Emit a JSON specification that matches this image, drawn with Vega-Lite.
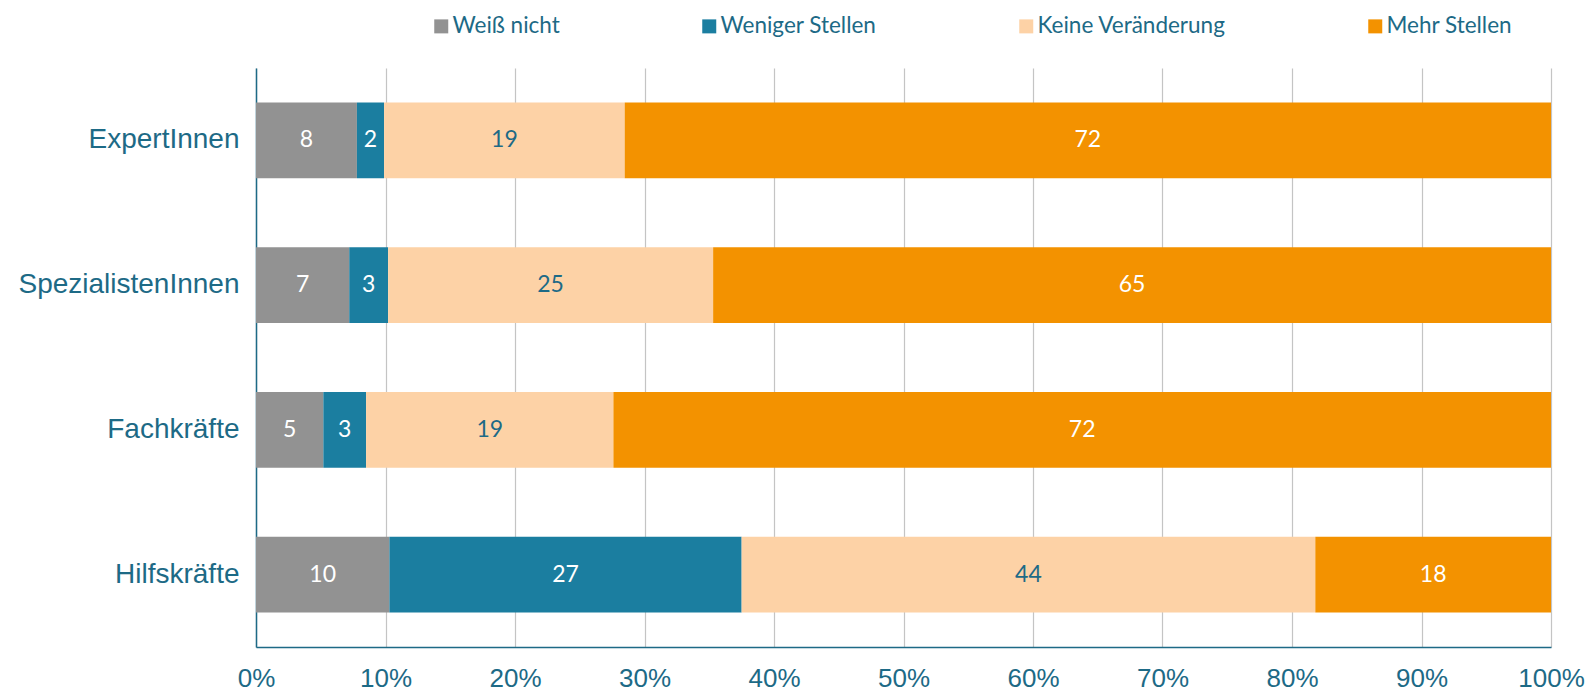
{
  "$schema": "https://vega.github.io/schema/vega-lite/v6.json",
  "width": 1295,
  "height": 579,
  "autosize": "none",
  "padding": {"left": 256, "top": 68, "right": 41, "bottom": 47},
  "background": "white",
  "config": {"view": {"stroke": null}, "font": "Liberation Sans"},
  "data": {
    "values": [
      {"g": "ExpertInnen", "c": "Weiß nicht", "k": 1, "v": 7.8},
      {"g": "ExpertInnen", "c": "Weniger Stellen", "k": 2, "v": 2.1},
      {"g": "ExpertInnen", "c": "Keine Veränderung", "k": 3, "v": 18.6},
      {"g": "ExpertInnen", "c": "Mehr Stellen", "k": 4, "v": 71.6},
      {"g": "SpezialistenInnen", "c": "Weiß nicht", "k": 1, "v": 7.2},
      {"g": "SpezialistenInnen", "c": "Weniger Stellen", "k": 2, "v": 3.0},
      {"g": "SpezialistenInnen", "c": "Keine Veränderung", "k": 3, "v": 25.1},
      {"g": "SpezialistenInnen", "c": "Mehr Stellen", "k": 4, "v": 64.7},
      {"g": "Fachkräfte", "c": "Weiß nicht", "k": 1, "v": 5.2},
      {"g": "Fachkräfte", "c": "Weniger Stellen", "k": 2, "v": 3.3},
      {"g": "Fachkräfte", "c": "Keine Veränderung", "k": 3, "v": 19.1},
      {"g": "Fachkräfte", "c": "Mehr Stellen", "k": 4, "v": 72.4},
      {"g": "Hilfskräfte", "c": "Weiß nicht", "k": 1, "v": 10.3},
      {"g": "Hilfskräfte", "c": "Weniger Stellen", "k": 2, "v": 27.2},
      {"g": "Hilfskräfte", "c": "Keine Veränderung", "k": 3, "v": 44.3},
      {"g": "Hilfskräfte", "c": "Mehr Stellen", "k": 4, "v": 18.2}
    ]
  },
  "transform": [
    {"stack": "v", "groupby": ["g"], "sort": [{"field": "k", "order": "ascending"}], "offset": "normalize", "as": ["x0", "x1"]},
    {"calculate": "(datum.x0 + datum.x1) / 2", "as": "xm"}
  ],
  "encoding": {
    "y": {
      "field": "g",
      "type": "nominal",
      "sort": ["ExpertInnen", "SpezialistenInnen", "Fachkräfte", "Hilfskräfte"],
      "scale": {"paddingInner": 0.475, "paddingOuter": 0.2375},
      "title": null,
      "axis": {
        "ticks": false,
        "domainColor": "#1d6a86",
        "domainWidth": 1.5,
        "labelFont": "Liberation Sans",
        "labelFontSize": 28,
        "labelColor": "#1d6a86",
        "labelPadding": 17,
        "labelLimit": 400,
        "grid": false
      }
    }
  },
  "layer": [
    {
      "mark": {"type": "bar"},
      "encoding": {
        "x": {
          "field": "x0",
          "type": "quantitative",
          "scale": {"domain": [0, 1], "nice": false},
          "title": null,
          "axis": {
            "values": [0, 0.1, 0.2, 0.3, 0.4, 0.5, 0.6, 0.7, 0.8, 0.9, 1],
            "format": ".0%",
            "ticks": false,
            "grid": true,
            "gridColor": "#c4c4c4",
            "gridWidth": 1.2,
            "domainColor": "#1d6a86",
            "domainWidth": 1.5,
            "labelFont": "Liberation Sans",
            "labelFontSize": 26,
            "labelColor": "#1d6a86",
            "labelPadding": 18,
            "labelFlush": false,
            "labelOverlap": false
          }
        },
        "x2": {"field": "x1"},
        "color": {
          "field": "c",
          "type": "nominal",
          "sort": ["Weiß nicht", "Weniger Stellen", "Keine Veränderung", "Mehr Stellen"],
          "scale": {
            "domain": ["Weiß nicht", "Weniger Stellen", "Keine Veränderung", "Mehr Stellen"],
            "range": ["#929292", "#1b7ea0", "#fdd2a6", "#f39200"]
          },
          "legend": {
            "orient": "none",
            "legendX": 174,
            "legendY": -53,
            "direction": "horizontal",
            "title": null,
            "symbolType": "square",
            "symbolSize": 196,
            "symbolStrokeWidth": 0,
            "symbolOpacity": 1,
            "labelFont": "Lato",
            "labelFontSize": 22.5,
            "labelColor": "#1d6a86",
            "labelOffset": 0,
            "columnPadding": 138,
            "labelLimit": 400
          }
        }
      }
    },
    {
      "mark": {"type": "text", "font": "Lato", "fontSize": 23, "baseline": "middle", "align": "center"},
      "encoding": {
        "x": {"field": "xm", "type": "quantitative"},
        "text": {"field": "v", "type": "quantitative", "format": ".0f"},
        "color": {
          "condition": {"test": "datum.c === 'Keine Veränderung'", "value": "#1d6a86"},
          "value": "white"
        }
      }
    }
  ]
}
